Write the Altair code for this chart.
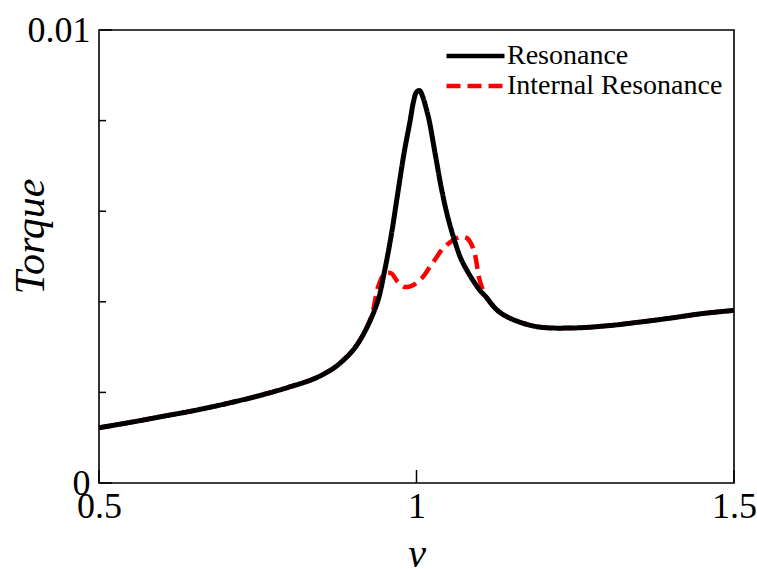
import altair as alt
import pandas as pd

# ---- data ----
nu = [0.50, 0.55, 0.60, 0.65, 0.70, 0.75, 0.80, 0.84, 0.87, 0.89, 0.90, 0.91, 0.92,
      0.93, 0.94, 0.95, 0.96, 0.97, 0.98, 0.99, 0.995, 1.00, 1.005, 1.01, 1.015,
      1.02, 1.03, 1.04, 1.05, 1.06, 1.07, 1.08, 1.09, 1.10, 1.11, 1.12, 1.13, 1.15,
      1.19, 1.24, 1.30, 1.35, 1.40, 1.45, 1.50]

resonance = [0.00122, 0.00134, 0.00147, 0.00160, 0.00175, 0.00192, 0.00212, 0.00231,
             0.00254, 0.00278, 0.00293, 0.00313, 0.00338, 0.00368, 0.00406, 0.00470,
             0.00545, 0.00635, 0.00725, 0.00800, 0.00840, 0.00863, 0.00866, 0.00852,
             0.00828, 0.00800, 0.00722, 0.00645, 0.00583, 0.00535, 0.00495, 0.00468,
             0.00445, 0.00425, 0.00410, 0.00392, 0.00378, 0.00362, 0.00345, 0.00342,
             0.00347, 0.00355, 0.00364, 0.00374, 0.00381]

internal = [0.00122, 0.00134, 0.00147, 0.00160, 0.00175, 0.00192, 0.00212, 0.00231,
            0.00254, 0.00278, 0.00293, 0.00313, 0.00338, 0.00372, 0.00435, 0.00462,
            0.00463, 0.00445, 0.00433, 0.00434, 0.00437, 0.00442, 0.00448, 0.00455,
            0.00464, 0.00475, 0.00495, 0.00515, 0.00528, 0.00538, 0.00543, 0.00540,
            0.00515, 0.00445, 0.00410, 0.00392, 0.00378, 0.00362, 0.00345, 0.00342,
            0.00347, 0.00355, 0.00364, 0.00374, 0.00381]

series_names = ["Resonance", "Internal Resonance"]
series_colors = ["#000000", "#ff0000"]

x_label_values = [0.5, 1.0, 1.5]
y_label_values = [0.0, 0.01]
y_minor_ticks = [0.002, 0.004, 0.006, 0.008]

# ---- tables ----
df_res = pd.DataFrame({"nu": nu, "torque": resonance, "series": series_names[0]})
df_int = pd.DataFrame({"nu": nu, "torque": internal, "series": series_names[1]})
df_xt = pd.DataFrame({"nu": x_label_values})
df_ymaj = pd.DataFrame({"torque": y_label_values})
df_ymin = pd.DataFrame({"torque": y_minor_ticks})

FONT = "Liberation Serif"

xenc = alt.X(
    "nu:Q",
    scale=alt.Scale(domain=[0.5, 1.5], nice=False, zero=False),
    axis=alt.Axis(
        values=x_label_values, labelExpr="'' + datum.value", ticks=False, tickSize=0,
        domain=False, grid=False, labelFlush=False, labelPadding=6,
        labelFontSize=36, labelFont=FONT, labelColor="black",
        title="ν", titleFont=FONT, titleFontSize=40, titleFontStyle="italic",
        titleFontWeight="normal", titleColor="black", titlePadding=10,
    ),
)
yenc = alt.Y(
    "torque:Q",
    scale=alt.Scale(domain=[0, 0.01], nice=False),
    axis=alt.Axis(
        values=y_label_values, labelExpr="'' + datum.value", ticks=False, tickSize=0,
        domain=False, grid=False, labelFlush=False, labelPadding=9,
        labelFontSize=36, labelFont=FONT, labelColor="black",
        title="Torque", titleFont=FONT, titleFontSize=42, titleFontStyle="italic",
        titleFontWeight="normal", titleColor="black", titleAngle=270,
        titleBaseline="alphabetic", titleAlign="center", titleX=-56, titleY=206,
    ),
)

legend_cfg = dict(
    title=None, orient="none", legendX=345, legendY=11,
    symbolType="stroke", symbolSize=3364, symbolStrokeWidth=4.5,
    labelFont=FONT, labelFontSize=28, labelColor="black", labelLimit=400,
    labelOffset=0, clipHeight=30, rowPadding=0, padding=0,
)

color_enc = alt.Color(
    "series:N",
    scale=alt.Scale(domain=series_names, range=series_colors),
    legend=alt.Legend(**legend_cfg),
)
dash_enc = alt.StrokeDash(
    "series:N",
    scale=alt.Scale(domain=series_names, range=[[1, 0], [14, 7]]),
    legend=alt.Legend(**legend_cfg),
)

red_line = alt.Chart(df_int).mark_line(
    strokeWidth=4.5, interpolate="catmull-rom"
).encode(x=xenc, y=yenc, color=color_enc, strokeDash=dash_enc, order="nu:Q")

black_line = alt.Chart(df_res).mark_line(
    strokeWidth=5, interpolate="catmull-rom"
).encode(x=xenc, y=yenc, color=color_enc, strokeDash=dash_enc, order="nu:Q")

x_ticks = alt.Chart(df_xt).mark_rule(color="black", strokeWidth=1.5).encode(
    x=xenc, y=alt.value(453), y2=alt.value(440)
)
y_major = alt.Chart(df_ymaj).mark_rule(color="black", strokeWidth=1.5).encode(
    y=yenc, x=alt.value(0), x2=alt.value(13)
)
y_minor = alt.Chart(df_ymin).mark_rule(color="black", strokeWidth=1.5).encode(
    y=yenc, x=alt.value(0), x2=alt.value(7)
)

chart = alt.layer(red_line, black_line, x_ticks, y_major, y_minor).properties(
    width=635,
    height=453,
    autosize=alt.AutoSizeParams(type="none"),
    padding={"left": 99, "top": 30, "right": 23, "bottom": 86},
    background="white",
).configure(
    font=FONT
).configure_view(
    stroke="black", strokeWidth=1.6
)

chart.save("out.html", embed_options={"renderer": "svg", "actions": False})
